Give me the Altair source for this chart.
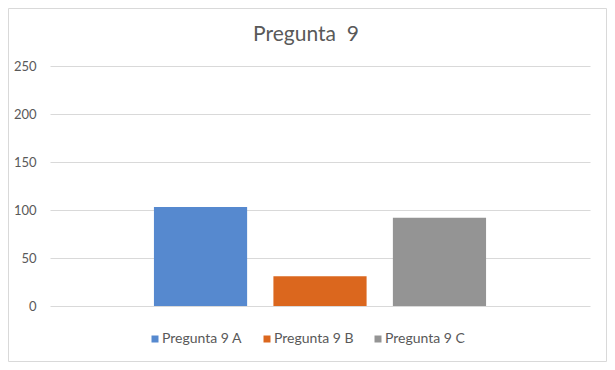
import altair as alt
import pandas as pd

series = ["Pregunta 9 A", "Pregunta 9 B", "Pregunta 9 C"]
values = [103, 31, 92]
colors = ["#5689CF", "#DB671E", "#949494"]
y_ticks = [0, 50, 100, 150, 200, 250]

df = pd.DataFrame({"serie": series, "valor": values})
FONT = "Lato"
TXT = "#595959"

border = alt.Chart(alt.Data(values=[{"a": 1}])).mark_rect(
    fill="transparent", stroke="#D9D9D9", strokeWidth=1
).encode(
    x=alt.value(-41.5), x2=alt.value(556.5),
    y=alt.value(-57.5), y2=alt.value(295.5)
)

bars = alt.Chart(df).mark_bar().encode(
    x=alt.X("serie:N", sort=series, axis=None,
            scale=alt.Scale(paddingInner=0.22, paddingOuter=0.87)),
    y=alt.Y("valor:Q", title=None,
            scale=alt.Scale(domain=[0, 250], nice=False),
            axis=alt.Axis(values=y_ticks, grid=True, gridColor="#D9D9D9",
                          domain=False, ticks=False, tickSize=0, labelPadding=14,
                          labelFont=FONT, labelFontSize=13, labelColor=TXT)),
    color=alt.Color("serie:N", sort=series,
                    scale=alt.Scale(domain=series, range=colors),
                    legend=alt.Legend(title=None, orient="none", direction="horizontal",
                                      legendX=98, legendY=266,
                                      symbolType="square", symbolSize=49,
                                      symbolStrokeWidth=0,
                                      labelFont=FONT, labelFontSize=14, labelColor=TXT,
                                      columnPadding=17, labelOffset=0, labelLimit=200)),
)

chart = alt.layer(border, bars).properties(
    width=540, height=240,
    background="white",
    autosize=alt.AutoSizeParams(type="none"),
    padding={"left": 42, "top": 58, "right": 17, "bottom": 56},
    title=alt.TitleParams("Pregunta\u00a0\u00a09", font=FONT, fontSize=21,
                          fontWeight="normal", color=TXT, anchor="middle",
                          frame="group", dx=-14, baseline="alphabetic", offset=0, dy=54),
).configure_view(strokeWidth=0, stroke="transparent")

chart.save("out.html", embed_options={"renderer": "svg", "actions": False})
